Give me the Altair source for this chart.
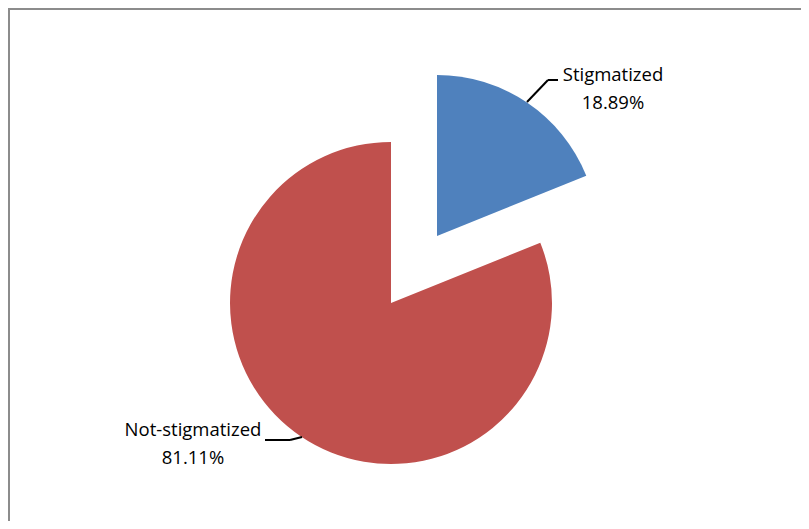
import math
import altair as alt
import pandas as pd

# ---- data ----
categories = ["Stigmatized", "Not-stigmatized"]
percents = [18.89, 81.11]
colors = ["#4F81BD", "#C0504D"]

ends = []
acc = 0.0
for p in percents:
    acc += p
    ends.append(acc)
starts = [e - p for e, p in zip(ends, percents)]

df = pd.DataFrame({
    "category": categories,
    "pct": percents,
    "start": starts,
    "end": ends,
    "label": [f"{c}\n{p:.2f}%" for c, p in zip(categories, percents)],
})

theta_scale = alt.Scale(domain=[0, 100], range=[0, 2 * math.pi])
FONT = "Open Sans"
R = 161

# layout per slice (exploded centres, label anchors, leader lines) - chart pixel coordinates
layout = {
    "Stigmatized": dict(cx=429, cy=228, tx=605, ty=73,
                        leader=[(519, 94, 540, 72), (540, 72, 550, 72)]),
    "Not-stigmatized": dict(cx=383, cy=295, tx=185, ty=428,
                            leader=[(257, 432, 282, 432), (282, 432, 294, 429)]),
}

base = alt.Chart(df)
layers = []
for cat, col in zip(categories, colors):
    L = layout[cat]
    sub = base.transform_filter(alt.datum.category == cat)
    arc = sub.mark_arc(outerRadius=R, color=col, stroke=None).encode(
        theta=alt.Theta("start:Q", scale=theta_scale),
        theta2="end:Q",
        x=alt.value(L["cx"]),
        y=alt.value(L["cy"]),
    )
    txt = sub.mark_text(
        lineBreak="\n", align="center", baseline="alphabetic",
        font=FONT, fontSize=18.5, lineHeight=28, color="black",
    ).encode(text="label:N", x=alt.value(L["tx"]), y=alt.value(L["ty"]))
    layers += [arc, txt]
    for (x1, y1, x2, y2) in L["leader"]:
        layers.append(
            sub.mark_rule(color="black", strokeWidth=2).encode(
                x=alt.value(x1), y=alt.value(y1), x2=alt.value(x2), y2=alt.value(y2)
            )
        )

# outer frame (top and left edges visible in the reference)
frame_top = base.transform_filter(alt.datum.category == categories[0]).mark_rule(
    color="#8c8c8c", strokeWidth=2
).encode(x=alt.value(0), x2=alt.value(793), y=alt.value(1))
frame_left = base.transform_filter(alt.datum.category == categories[0]).mark_rule(
    color="#8c8c8c", strokeWidth=2
).encode(x=alt.value(1), y=alt.value(0), y2=alt.value(513))
layers += [frame_top, frame_left]

chart = alt.layer(*layers).properties(
    width=793, height=513, padding=0,
    autosize=alt.AutoSizeParams(type="none"),
).configure_view(stroke=None).configure(background="white")

chart.save("out.html", embed_options={"renderer": "svg", "actions": False})
